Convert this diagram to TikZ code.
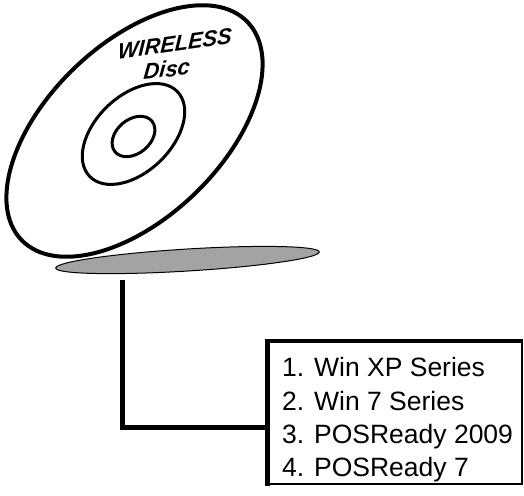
\documentclass[tikz,border=0pt]{standalone}
\usepackage{fontspec}
\setmainfont{Liberation Sans}
\definecolor{shadowgray}{RGB}{163,163,163}
\begin{document}
\begin{tikzpicture}[x=1pt,y=1pt,
  discline/.style={line width=4pt},
  ringline/.style={line width=3pt},
  disclabel/.style={font=\fontsize{22}{26}\selectfont\bfseries\itshape, inner sep=0pt},
  connector/.style={line width=5pt},
  listline/.style={font=\fontsize{26.5}{33}\selectfont, inner sep=0pt, anchor=base west}]
\useasboundingbox (0,0) rectangle (524,495);

% the disc, seen at a slant
\coordinate (disc) at (134.5,364);
\draw[discline, rotate around={44:(disc)}] (disc) ellipse [x radius=157, y radius=87];
\draw[ringline, rotate around={44:(133.5,361)}] (133.5,361) ellipse [x radius=61, y radius=38];
\draw[ringline, rotate around={40:(133.5,358.5)}] (133.5,358.5) ellipse [x radius=24, y radius=17];
\node[disclabel, rotate=8, xslant=0.2] (title) at (175,451) {WIRELESS};
\node[disclabel, rotate=6, xslant=0.2] (subtitle) at (167,426) {Disc};

% its shadow on the floor
\coordinate (shadow) at (187.5,235);
\draw[line width=1pt, fill=shadowgray, rotate around={3.5:(shadow)}] (shadow) ellipse [x radius=132, y radius=11];

% the list of systems
\node[minimum width=254.5pt, minimum height=142.5pt, inner sep=0pt] (list) at (394.75,82.75) {};
\draw[line width=4.5pt] ([yshift=-2pt]list.south west) -- (list.north west) -- ([xshift=1pt]list.north east);
\draw[line width=2pt] (list.north east) -- (list.south east) -- (list.south west);
\foreach \i/\t in {1/1. Win XP Series, 2/2. Win 7 Series, 3/3. POSReady 2009, 4/4. POSReady 7}
  \node[listline] (item\i) at (282,{118-33.3*(\i-1)}) {\t};

% connector from under the disc to the list
\coordinate (drop) at (122,214.5);
\coordinate (joint) at (122,67.5);
\draw[connector] (drop) -- (joint) -- (joint -| list.west);
\end{tikzpicture}
\end{document}
